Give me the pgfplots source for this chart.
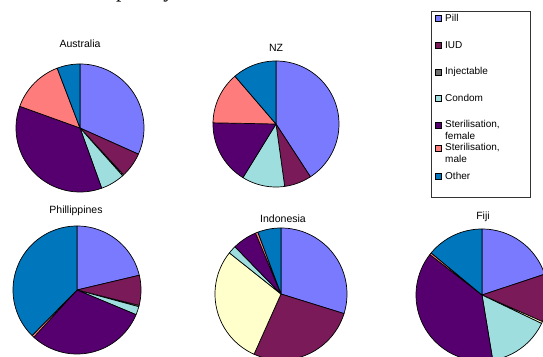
\documentclass[border=0pt]{standalone}
\usepackage{pgfplots}
\pgfplotsset{compat=1.18}
\usepackage{pgfplotstable}
\usepackage{fontspec}
\setmainfont{Liberation Sans}
\newfontfamily\headfont{Liberation Serif}

% slice colours
\definecolor{cPill}{RGB}{122,122,255}
\definecolor{cIUD}{RGB}{122,26,88}
\definecolor{cInj}{RGB}{255,255,204}
\definecolor{cInjKey}{RGB}{110,110,110}
\definecolor{cCondom}{RGB}{158,222,222}
\definecolor{cSterF}{RGB}{86,0,112}
\definecolor{cSterM}{RGB}{255,124,124}
\definecolor{cOther}{RGB}{0,118,188}

% share of users by method (%), one column per country
\pgfplotstableread{
method      aus   nz    phl   idn   fji
Pill        31.7  40.8  21.3  29.8  19.9
IUD         6.4   7.0   7.6   26.9  11.7
Injectable  0.3   0.0   0.3   29.0  0.5
Condom      6.1   11.0  2.1   2.0   15.3
SterF       36.0  16.5  30.5  6.0   38.1
SterM       13.7  13.4  0.6   0.6   0.5
Other       5.8   11.3  37.6  5.7   14.0
}\mix

\pgfplotsset{pieslice/.style={draw=black, line width=0.7pt, line join=round, samples=60}}

% #1 column, #2 x, #3 y of the centre, #4 diameter
\newcommand\piechart[4]{%
  \begin{axis}[at={(#2pt,#3pt)}, anchor=center, scale only axis,
      width=#4, height=#4, hide axis, clip=false,
      xmin=-1, xmax=1, ymin=-1, ymax=1]
    \gdef\cum{0}%
    \foreach \i/\c in {0/cPill,1/cIUD,2/cInj,3/cCondom,4/cSterF,5/cSterM,6/cOther}{%
      \pgfplotstablegetelem{\i}{#1}\of\mix
      \let\v\pgfplotsretval
      \pgfmathsetmacro\a{3.6*\cum}%
      \pgfmathsetmacro\b{3.6*(\cum+\v)}%
      \ifdim\v pt>0pt
        \edef\slice{\noexpand\addplot[pieslice, fill=\c, domain=\a:\b]
          ({sin(x)},{cos(x)}) -- (axis cs:0,0) -- cycle;}%
        \slice
      \fi
      \pgfmathsetmacro\n{\cum+\v}%
      \global\let\cum\n
    }%
  \end{axis}%
}

\begin{document}
\begin{tikzpicture}[x=1pt,y=1pt]
\useasboundingbox (0,0) rectangle (543,356);
\clip (0,0) rectangle (543,356);

% heading line, mostly above the page
\node[anchor=base west, inner sep=0pt, font=\headfont\fontsize{21.5}{24}\selectfont]
  at (-47,358.6) {Method mix as shaped by nation};

\piechart{aus}{80}{228}{128pt}
\piechart{nz}{276}{232}{126pt}
\piechart{phl}{77}{66}{128pt}
\piechart{idn}{281}{62}{132pt}
\piechart{fji}{482}{61}{132pt}

\begin{scope}[font=\fontsize{10.5}{12}\selectfont]
\node at (80,312) {Australia};
\node at (276,308) {NZ};
\node at (76,145) {Phillippines};
\node at (283,137) {Indonesia};
\node at (483,139) {Fiji};
\end{scope}

% key
\draw[line width=0.8pt, black!80] (431,159) rectangle (530,345);
\begin{scope}[font=\fontsize{10}{12}\selectfont]
\foreach \y/\c/\t in {338/cPill/Pill, 311/cIUD/IUD, 284/cInjKey/Injectable,
    258/cCondom/Condom, 231/cSterF/{Sterilisation,}, 208/cSterM/{Sterilisation,},
    180/cOther/Other}{
  \draw[fill=\c, line width=0.5pt] (435,\y-3) rectangle (441,\y+3);
  \node[anchor=west, inner sep=0pt] at (445,\y) {\t};
}
\node[anchor=west, inner sep=0pt] at (445,220) {female};
\node[anchor=west, inner sep=0pt] at (445,197) {male};
\end{scope}
\end{tikzpicture}
\end{document}
